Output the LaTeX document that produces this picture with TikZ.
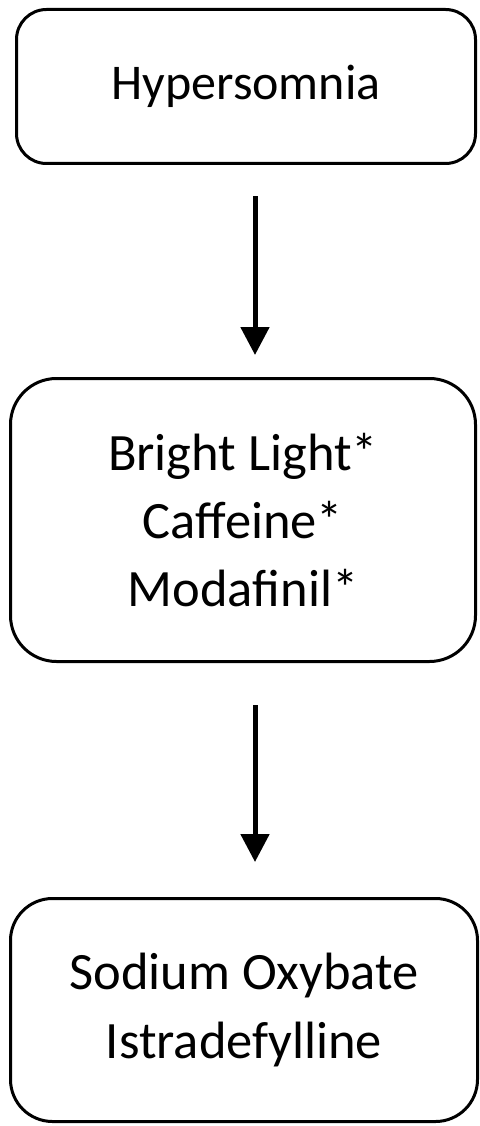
\documentclass[tikz,border=0pt]{standalone}
\usepackage{fontspec}
\setmainfont{Carlito}
\usetikzlibrary{arrows.meta, positioning}

\tikzset{
  stage/.style={draw, line width=3pt, rounded corners=#1, align=center, inner sep=0pt},
  flow/.style={line width=5pt, -{Triangle[width=28pt,length=28pt]}}
}

\begin{document}
\begin{tikzpicture}[x=1pt, y=-1pt]
            \useasboundingbox (0,0) rectangle (479,1126);
            \node[stage=30pt, minimum width=459pt, minimum height=154pt,
                  font={\fontsize{50}{68}\selectfont}] (hyper) at (246, 86.5) {Hypersomnia};
            \node[stage=46pt, minimum width=465pt, minimum height=283pt,
                  font={\fontsize{52.5}{68}\selectfont}] (first) at (243, 520)
                {Bright Light*\\ Caffeine*\\ Modafinil*};
            \node[stage=42pt, minimum width=467pt, minimum height=223pt,
                  font={\fontsize{52.5}{69}\selectfont}] (second) at (244, 1010)
                {Sodium Oxybate\\ Istradefylline};
            \draw[flow] ([xshift=9pt, yshift=-31pt]hyper.south) -- ([xshift=12pt, yshift=22pt]first.north);
            \draw[flow] ([xshift=12pt, yshift=-42pt]first.south) -- ([xshift=11pt, yshift=35pt]second.north);
        \end{tikzpicture}
\end{document}
